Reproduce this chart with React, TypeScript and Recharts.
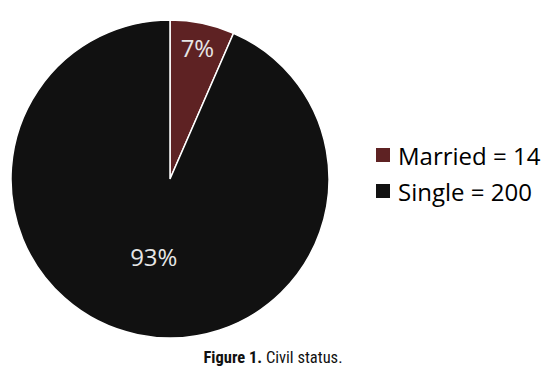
import { Legend, Pie, PieChart, Cell } from "recharts";

const categories = ["Married", "Single"];
const counts = [14, 200];
const colors = ["#5e2223", "#111111"];
// Excel places the small slice label near the rim, the big one closer in
const labelRadius = [0.845, 0.5];

const data = categories.map((name, i) => ({ name, value: counts[i] }));
const total = counts.reduce((a, b) => a + b, 0);

const RAD = Math.PI / 180;

function renderLabel(props: any) {
  const { cx, cy, midAngle, outerRadius, index, value } = props;
  const r = outerRadius * labelRadius[index];
  const x = cx + r * Math.cos(-midAngle * RAD);
  const y = cy + r * Math.sin(-midAngle * RAD);
  return (
    <text
      x={x}
      y={y}
      fill="#e6e6e6"
      fontSize={24}
      fontFamily="'Open Sans', sans-serif"
      textAnchor="middle"
      dominantBaseline="central"
    >
      {`${Math.round((value / total) * 100)}%`}
    </text>
  );
}

function renderLegend() {
  return (
    <div style={{ fontFamily: "'Open Sans', sans-serif", fontSize: 24, color: "#000" }}>
      {data.map((d, i) => (
        <div key={d.name} style={{ display: "flex", alignItems: "center", height: 36 }}>
          <span
            style={{
              display: "inline-block",
              width: 14,
              height: 14,
              background: colors[i],
              marginRight: 8,
            }}
          />
          <span>{`${d.name} = ${d.value}`}</span>
        </div>
      ))}
    </div>
  );
}

export default function App() {
  return (
    <div
      style={{
        position: "absolute",
        left: 0,
        top: 0,
        width: 546,
        height: 376,
        background: "#fff",
      }}
    >
      <PieChart width={546} height={340}>
        <Pie
          data={data}
          dataKey="value"
          nameKey="name"
          cx={165}
          cy={174}
          outerRadius={159}
          startAngle={90}
          endAngle={-270}
          stroke="#fff"
          strokeWidth={1.5}
          label={renderLabel}
          labelLine={false}
          isAnimationActive={false}
        >
          {data.map((d, i) => (
            <Cell key={d.name} fill={colors[i]} />
          ))}
        </Pie>
        <Legend
          content={renderLegend}
          layout="vertical"
          wrapperStyle={{ left: 376, top: 137, width: 180 }}
        />
      </PieChart>
      <div
        style={{
          position: "absolute",
          left: 0,
          top: 348,
          width: 546,
          textAlign: "center",
          fontFamily: "'Liberation Sans Narrow', 'Roboto', sans-serif",
          fontStretch: "condensed",
          fontSize: 16.5,
          color: "#111",
        }}
      >
        <b>Figure 1.</b> Civil status.
      </div>
    </div>
  );
}
